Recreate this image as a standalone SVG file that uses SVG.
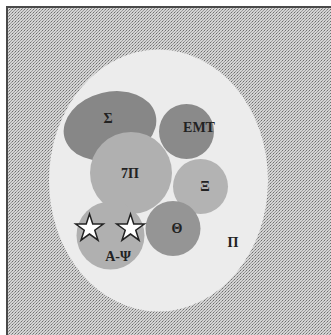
<svg xmlns="http://www.w3.org/2000/svg" width="331" height="335" viewBox="0 0 331 335">
<style>
.lbl{font-family:"Liberation Serif",serif;font-weight:bold;font-size:14px;fill:#222;text-anchor:middle}
.star{fill:#fff;stroke:#222;stroke-width:1.5;stroke-linejoin:miter}
</style>
<defs>
<pattern id="dots" patternUnits="userSpaceOnUse" width="3" height="3">
<rect width="3" height="3" fill="#d4d4d4"/>
<rect x="0" y="0" width="1" height="1" fill="#6e6e6e"/>
<rect x="2" y="1" width="1" height="1" fill="#9a9a9a"/>
<rect x="1" y="2" width="1" height="1" fill="#9a9a9a"/>
</pattern>
<path id="starShape" d="M0,-14.5 L3.26,-4.48 L13.79,-4.48 L5.27,1.71 L8.52,11.73 L0,5.54 L-8.52,11.73 L-5.27,1.71 L-13.79,-4.48 L-3.26,-4.48 Z"/>
</defs>
<rect width="331" height="335" fill="#fff"/>
<rect x="7" y="7" width="330" height="335" fill="url(#dots)" stroke="#4a4a4a" stroke-width="2"/>
<g id="P">
<ellipse cx="158.5" cy="180.5" rx="109.5" ry="131" fill="#ececec"/>
<text class="lbl" x="233" y="247">Π</text>
</g>
<g id="Sigma">
<ellipse cx="110" cy="126" rx="47" ry="34" transform="rotate(-14 110 126)" fill="#878787"/>
<text class="lbl" x="108" y="123">Σ</text>
</g>
<g id="EMT">
<circle cx="186.5" cy="131.5" r="27.5" fill="#8a8a8a"/>
<text class="lbl" x="199" y="132">EMT</text>
</g>
<g id="SevenPi">
<circle cx="131" cy="173" r="41" fill="#b0b0b0"/>
<text class="lbl" x="130" y="178">7Π</text>
</g>
<g id="Xi">
<circle cx="200.5" cy="186.5" r="27.5" fill="#b3b3b3"/>
<text class="lbl" x="205" y="191">Ξ</text>
</g>
<g id="APsi">
<circle cx="110.5" cy="235.5" r="34" fill="#b0b0b0"/>
<text class="lbl" x="118" y="261">A-Ψ</text>
</g>
<g id="Theta">
<circle cx="173" cy="228.5" r="27.5" fill="#959595"/>
<text class="lbl" x="177" y="233">Θ</text>
</g>
<g id="stars">
<use href="#starShape" class="star" transform="translate(89.5 228.5)"/>
<use href="#starShape" class="star" transform="translate(130.5 228.5)"/>
</g>
<g id="connectors"/>
</svg>
